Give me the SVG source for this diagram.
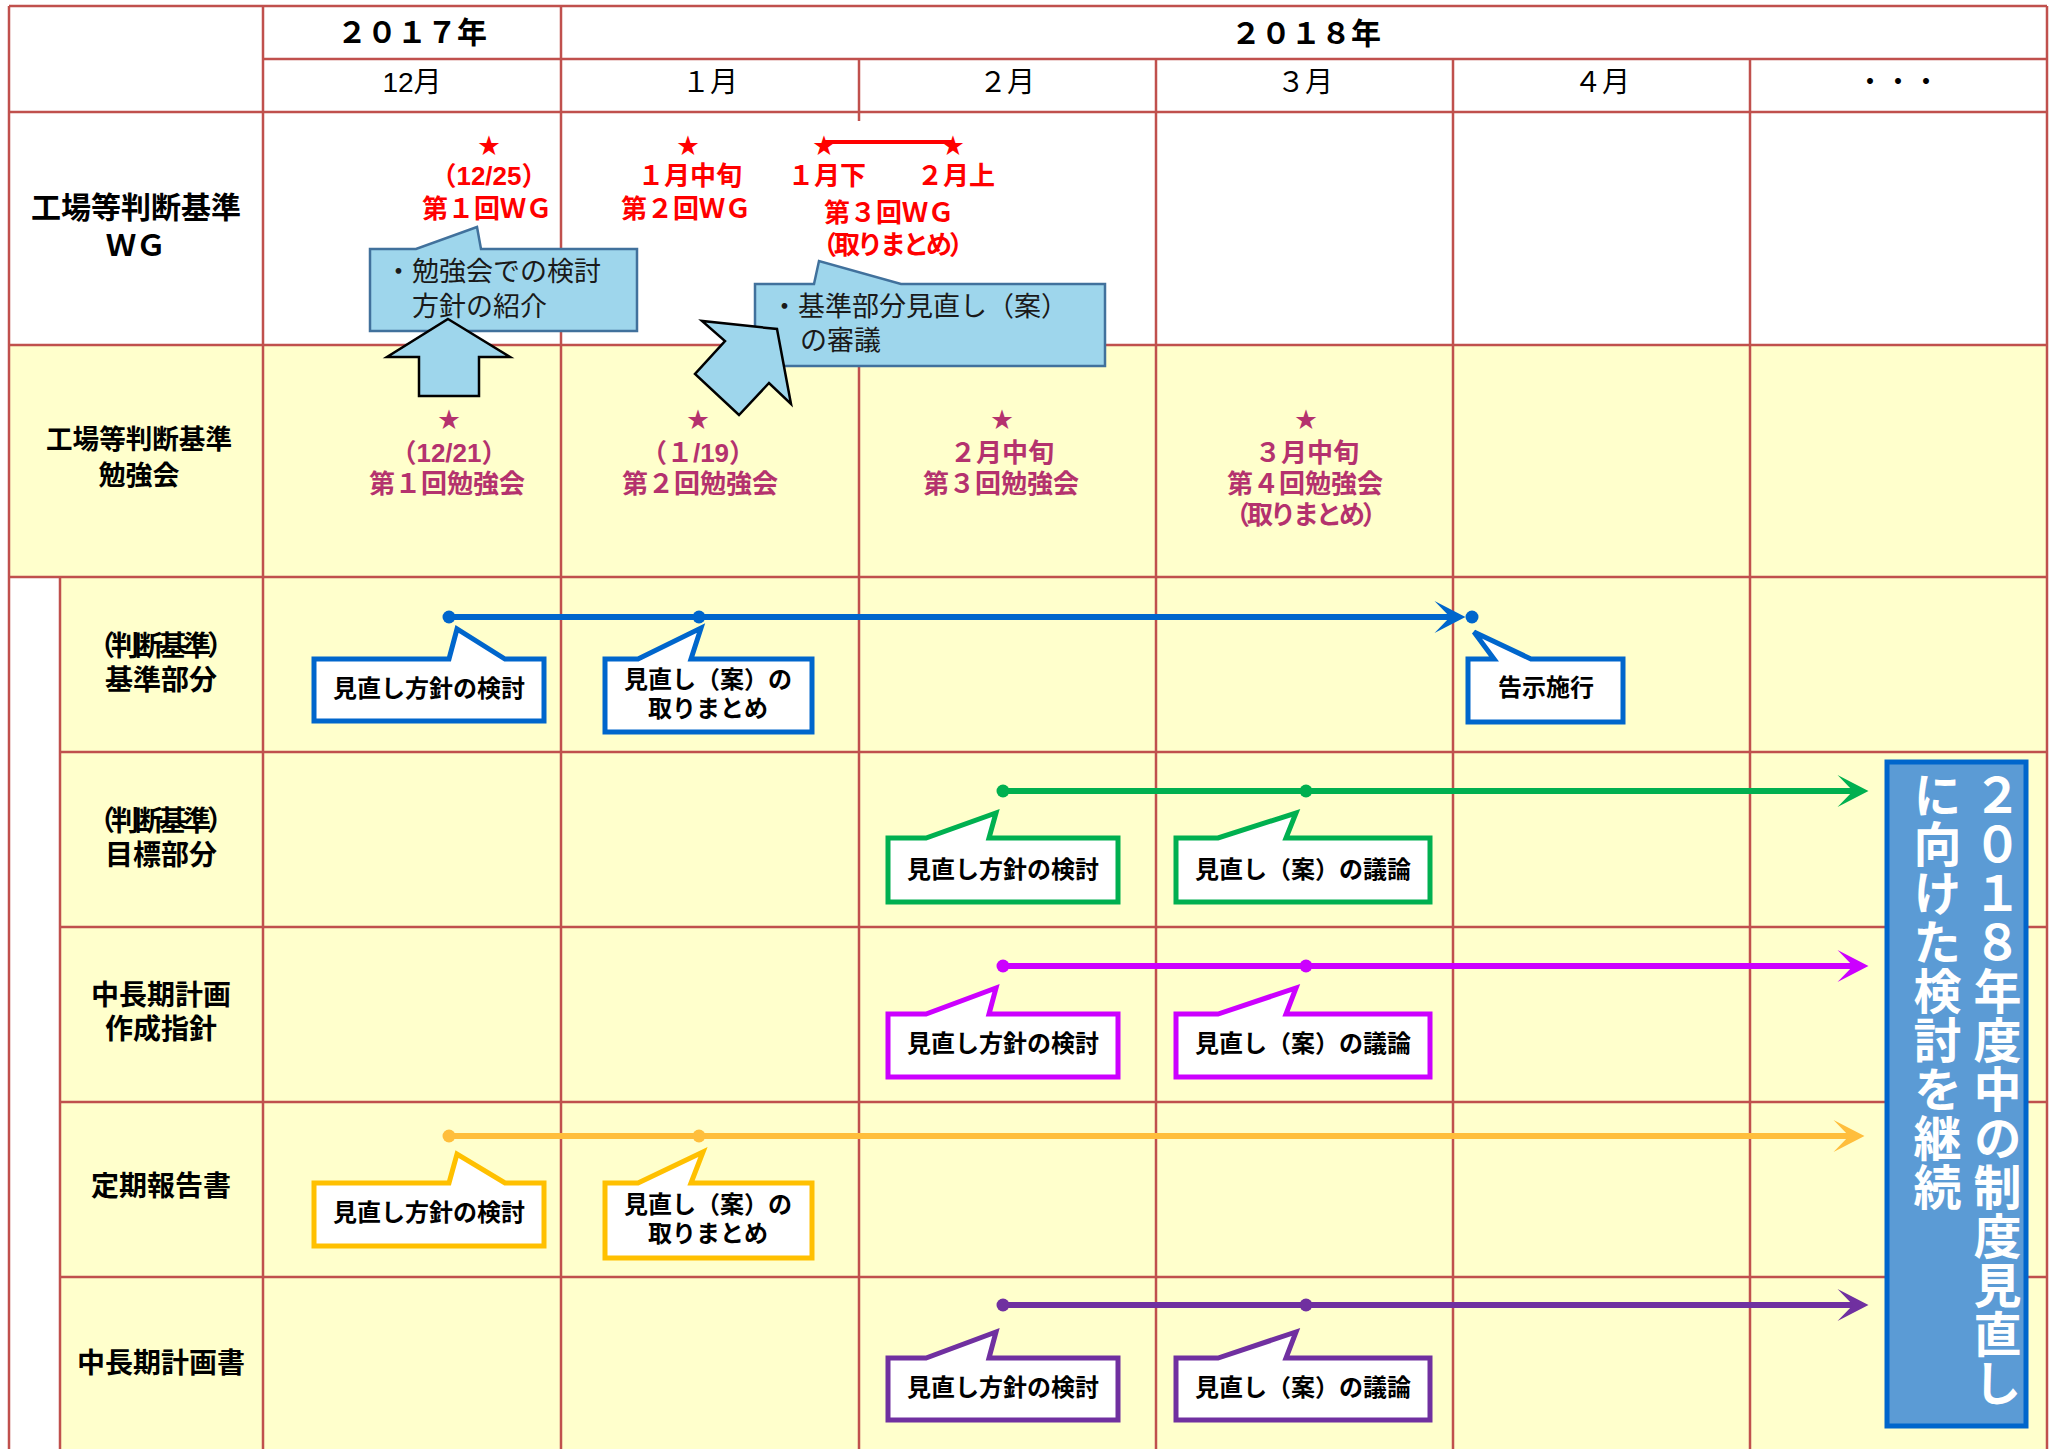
<svg xmlns="http://www.w3.org/2000/svg" width="2054" height="1449" viewBox="0 0 2054 1449">
<style>
  text, tspan { font-family: "Liberation Sans", "Noto Sans CJK JP", sans-serif; dominant-baseline: central; }
  text { text-anchor: middle; }
  .grid { stroke: #C0504D; stroke-width: 2.5; fill: none; }
  .hdr { font-size: 30px; font-weight: bold; fill: #000; }
  .mon { font-size: 28px; fill: #000; }
  .lbl { font-size: 28px; font-weight: bold; fill: #000; }
  .wg { font-size: 26px; font-weight: bold; fill: #FF0000; }
  .st { font-size: 26px; font-weight: bold; fill: #B4326E; }
  .star { font-size: 22px; }
  .note { fill: #9ED6EC; stroke: #41719C; stroke-width: 2.5; }
  .notetxt { font-size: 27px; fill: #1a1a1a; text-anchor: start; }
  .barrow { fill: #9ED6EC; stroke: #000; stroke-width: 2.5; stroke-linejoin: miter; }
  .co { fill: #fff; stroke-width: 5; stroke-linejoin: miter; }
  .cotxt { font-size: 24px; font-weight: bold; fill: #000; }
  .tl { stroke-width: 6; fill: none; }
  .big { fill: #5B9BD5; stroke: #0066CC; stroke-width: 5; }
  .vt { font-size: 48px; font-weight: bold; fill: #fff; writing-mode: vertical-rl; text-anchor: start; letter-spacing: 1px; }
</style>
<defs>
  <marker id="ah-blue" markerUnits="userSpaceOnUse" markerWidth="32" markerHeight="32" viewBox="0 0 30 31" refX="15" refY="15.5" orient="auto"><path d="M0,0 L30,15.5 L0,31 L15,15.5 Z" fill="#0066CC"/></marker>
  <marker id="ah-green" markerUnits="userSpaceOnUse" markerWidth="32" markerHeight="32" viewBox="0 0 30 31" refX="15" refY="15.5" orient="auto"><path d="M0,0 L30,15.5 L0,31 L15,15.5 Z" fill="#00B050"/></marker>
  <marker id="ah-mag" markerUnits="userSpaceOnUse" markerWidth="32" markerHeight="32" viewBox="0 0 30 31" refX="15" refY="15.5" orient="auto"><path d="M0,0 L30,15.5 L0,31 L15,15.5 Z" fill="#CC00FF"/></marker>
  <marker id="ah-org" markerUnits="userSpaceOnUse" markerWidth="32" markerHeight="32" viewBox="0 0 30 31" refX="15" refY="15.5" orient="auto"><path d="M0,0 L30,15.5 L0,31 L15,15.5 Z" fill="#FFBE3C"/></marker>
  <marker id="ah-pur" markerUnits="userSpaceOnUse" markerWidth="32" markerHeight="32" viewBox="0 0 30 31" refX="15" refY="15.5" orient="auto"><path d="M0,0 L30,15.5 L0,31 L15,15.5 Z" fill="#7030A0"/></marker>
</defs>

<!-- backgrounds -->
<g id="background">
  <rect x="0" y="0" width="2054" height="1449" fill="#fff"/>
  <rect x="9" y="345" width="2038" height="232" fill="#FFFFCC"/>
  <rect x="60" y="577" width="1987" height="872" fill="#FFFFCC"/>
</g>

<!-- grid -->
<g id="grid" class="grid">
  <line x1="9" y1="6" x2="2047" y2="6"/>
  <line x1="263" y1="59" x2="2047" y2="59"/>
  <line x1="9" y1="112" x2="2047" y2="112"/>
  <line x1="9" y1="345" x2="2047" y2="345"/>
  <line x1="9" y1="577" x2="2047" y2="577"/>
  <line x1="60" y1="752" x2="2047" y2="752"/>
  <line x1="60" y1="927" x2="2047" y2="927"/>
  <line x1="60" y1="1102" x2="2047" y2="1102"/>
  <line x1="60" y1="1277" x2="2047" y2="1277"/>
  <line x1="9" y1="6" x2="9" y2="1449"/>
  <line x1="60" y1="577" x2="60" y2="1449"/>
  <line x1="263" y1="6" x2="263" y2="1449"/>
  <line x1="561" y1="6" x2="561" y2="1449"/>
  <line x1="859" y1="59" x2="859" y2="121"/>
  <line x1="859" y1="345" x2="859" y2="1449"/>
  <line x1="1156" y1="59" x2="1156" y2="1449"/>
  <line x1="1453" y1="59" x2="1453" y2="1449"/>
  <line x1="1750" y1="59" x2="1750" y2="1449"/>
  <line x1="2047" y1="6" x2="2047" y2="1449"/>
</g>

<!-- header -->
<g id="header">
  <text class="hdr" x="412" y="32">２０１７年</text>
  <text class="hdr" x="1306" y="33">２０１８年</text>
  <text class="mon" x="412" y="82">12月</text>
  <text class="mon" x="710" y="82">１月</text>
  <text class="mon" x="1007" y="82">２月</text>
  <text class="mon" x="1305" y="82">３月</text>
  <text class="mon" x="1602" y="82">４月</text>
  <text class="mon" x="1898" y="82">・・・</text>
</g>

<!-- row labels -->
<g id="row-labels">
  <text class="hdr"><tspan x="136" y="207">工場等判断基準</tspan><tspan x="136" y="245">ＷＧ</tspan></text>
  <text class="lbl" style="font-size:27px"><tspan x="139" y="440" textLength="186" lengthAdjust="spacingAndGlyphs">工場等判断基準</tspan><tspan x="139" y="476">勉強会</tspan></text>
  <text class="lbl"><tspan x="161" y="646" textLength="148" lengthAdjust="spacing">（判断基準）</tspan><tspan x="161" y="680">基準部分</tspan></text>
  <text class="lbl"><tspan x="161" y="821" textLength="148" lengthAdjust="spacing">（判断基準）</tspan><tspan x="161" y="855">目標部分</tspan></text>
  <text class="lbl"><tspan x="161" y="995">中長期計画</tspan><tspan x="161" y="1029">作成指針</tspan></text>
  <text class="lbl" x="161" y="1186">定期報告書</text>
  <text class="lbl" x="161" y="1363">中長期計画書</text>
</g>

<!-- WG events -->
<g id="wg-events">
  <line x1="824" y1="142" x2="953" y2="142" stroke="#FF0000" stroke-width="4"/>
  <text class="wg"><tspan class="star" x="489" y="145">★</tspan><tspan x="489" y="176">（12/25）</tspan><tspan x="487" y="209">第１回ＷＧ</tspan></text>
  <text class="wg"><tspan class="star" x="688" y="145">★</tspan><tspan x="690" y="176">１月中旬</tspan><tspan x="686" y="209">第２回ＷＧ</tspan></text>
  <text class="wg"><tspan class="star" x="824" y="145">★</tspan><tspan class="star" x="953" y="145">★</tspan><tspan x="827" y="176">１月下</tspan><tspan x="956" y="176">２月上</tspan><tspan x="889" y="213">第３回ＷＧ</tspan><tspan x="893" y="245" textLength="164" lengthAdjust="spacing">（取りまとめ）</tspan></text>
</g>

<!-- study events -->
<g id="study-events">
  <text class="st"><tspan class="star" x="449" y="419">★</tspan><tspan x="449" y="453">（12/21）</tspan><tspan x="447" y="484">第１回勉強会</tspan></text>
  <text class="st"><tspan class="star" x="698" y="419">★</tspan><tspan x="698" y="453">（１/19）</tspan><tspan x="700" y="484">第２回勉強会</tspan></text>
  <text class="st"><tspan class="star" x="1002" y="419">★</tspan><tspan x="1002" y="453">２月中旬</tspan><tspan x="1001" y="484">第３回勉強会</tspan></text>
  <text class="st"><tspan class="star" x="1306" y="419">★</tspan><tspan x="1307" y="453">３月中旬</tspan><tspan x="1305" y="484">第４回勉強会</tspan><tspan x="1306" y="515" textLength="164" lengthAdjust="spacing">（取りまとめ）</tspan></text>
</g>

<!-- blue notes -->
<g id="note1">
  <path class="note" d="M370,249 L416,249 L477,227 L481,249 L637,249 L637,331 L370,331 Z"/>
  <text class="notetxt"><tspan x="385" y="272">・勉強会での検討</tspan><tspan x="412" y="307">方針の紹介</tspan></text>
</g>
<g id="arrow-up">
  <path class="barrow" d="M448,319 L510,357 L479,357 L479,396 L419,396 L419,357 L387,357 Z"/>
</g>
<g id="note2">
  <path class="note" d="M755,284 L814,284 L819,261 L901,284 L1105,284 L1105,366 L755,366 Z"/>
  <text class="notetxt"><tspan x="771" y="307">・基準部分見直し（案）</tspan><tspan x="800" y="341">の審議</tspan></text>
</g>
<g id="arrow-diag">
  <path class="barrow" d="M777,329 L791,404 L769,383 L739,415 L695,374 L725,341 L702,321 Z"/>
</g>

<!-- connectors / timelines -->
<g id="connectors">
  <line class="tl" x1="449" y1="617" x2="1450" y2="617" stroke="#0066CC" marker-end="url(#ah-blue)"/>
  <circle cx="449" cy="617" r="6.5" fill="#0066CC"/>
  <circle cx="699" cy="617" r="6.5" fill="#0066CC"/>
  <circle cx="1472" cy="617" r="6.5" fill="#0066CC"/>

  <line class="tl" x1="1003" y1="791" x2="1853" y2="791" stroke="#00B050" marker-end="url(#ah-green)"/>
  <circle cx="1003" cy="791" r="6.5" fill="#00B050"/>
  <circle cx="1306" cy="791" r="6.5" fill="#00B050"/>

  <line class="tl" x1="1003" y1="966" x2="1853" y2="966" stroke="#CC00FF" marker-end="url(#ah-mag)"/>
  <circle cx="1003" cy="966" r="6.5" fill="#CC00FF"/>
  <circle cx="1306" cy="966" r="6.5" fill="#CC00FF"/>

  <line class="tl" x1="449" y1="1136" x2="1849" y2="1136" stroke="#FFBE3C" marker-end="url(#ah-org)"/>
  <circle cx="449" cy="1136" r="6.5" fill="#FFBE3C"/>
  <circle cx="699" cy="1136" r="6.5" fill="#FFBE3C"/>

  <line class="tl" x1="1003" y1="1305" x2="1853" y2="1305" stroke="#7030A0" marker-end="url(#ah-pur)"/>
  <circle cx="1003" cy="1305" r="6.5" fill="#7030A0"/>
  <circle cx="1306" cy="1305" r="6.5" fill="#7030A0"/>
</g>

<!-- row 1 callouts (blue) -->
<g id="c-kijun-1">
  <path class="co" stroke="#0066CC" d="M314,659 L449,659 L457,629 L505,659 L544,659 L544,721 L314,721 Z"/>
  <text class="cotxt" x="429" y="688">見直し方針の検討</text>
</g>
<g id="c-kijun-2">
  <path class="co" stroke="#0066CC" d="M605,659 L638,659 L701,628 L691,659 L812,659 L812,732 L605,732 Z"/>
  <text class="cotxt"><tspan x="708" y="679">見直し（案）の</tspan><tspan x="708" y="708">取りまとめ</tspan></text>
</g>
<g id="c-kijun-3">
  <path class="co" stroke="#0066CC" d="M1468,659 L1494,659 L1474,632 L1531,659 L1623,659 L1623,722 L1468,722 Z"/>
  <text class="cotxt" x="1546" y="687">告示施行</text>
</g>

<!-- row 2 callouts (green) -->
<g id="c-mokuhyo-1">
  <path class="co" stroke="#00B050" d="M888,838 L926,838 L996,813 L989,838 L1118,838 L1118,902 L888,902 Z"/>
  <text class="cotxt" x="1003" y="869">見直し方針の検討</text>
</g>
<g id="c-mokuhyo-2">
  <path class="co" stroke="#00B050" d="M1176,838 L1218,838 L1296,813 L1286,838 L1430,838 L1430,902 L1176,902 Z"/>
  <text class="cotxt" x="1303" y="869">見直し（案）の議論</text>
</g>

<!-- row 3 callouts (magenta) -->
<g id="c-shishin-1">
  <path class="co" stroke="#CC00FF" d="M888,1014 L926,1014 L996,988 L989,1014 L1118,1014 L1118,1077 L888,1077 Z"/>
  <text class="cotxt" x="1003" y="1043">見直し方針の検討</text>
</g>
<g id="c-shishin-2">
  <path class="co" stroke="#CC00FF" d="M1176,1014 L1218,1014 L1296,988 L1286,1014 L1430,1014 L1430,1077 L1176,1077 Z"/>
  <text class="cotxt" x="1303" y="1043">見直し（案）の議論</text>
</g>

<!-- row 4 callouts (orange) -->
<g id="c-teiki-1">
  <path class="co" stroke="#FFC000" d="M314,1183 L449,1183 L457,1154 L505,1183 L544,1183 L544,1246 L314,1246 Z"/>
  <text class="cotxt" x="429" y="1212">見直し方針の検討</text>
</g>
<g id="c-teiki-2">
  <path class="co" stroke="#FFC000" d="M605,1183 L638,1183 L703,1152 L691,1183 L812,1183 L812,1258 L605,1258 Z"/>
  <text class="cotxt"><tspan x="708" y="1204">見直し（案）の</tspan><tspan x="708" y="1233">取りまとめ</tspan></text>
</g>

<!-- row 5 callouts (purple) -->
<g id="c-keikaku-1">
  <path class="co" stroke="#7030A0" d="M888,1358 L926,1358 L996,1332 L989,1358 L1118,1358 L1118,1420 L888,1420 Z"/>
  <text class="cotxt" x="1003" y="1387">見直し方針の検討</text>
</g>
<g id="c-keikaku-2">
  <path class="co" stroke="#7030A0" d="M1176,1358 L1218,1358 L1296,1332 L1286,1358 L1430,1358 L1430,1420 L1176,1420 Z"/>
  <text class="cotxt" x="1303" y="1387">見直し（案）の議論</text>
</g>

<!-- big vertical box -->
<g id="continue-box">
  <rect class="big" x="1887" y="762" width="139" height="664"/>
  <text class="vt" x="1993" y="771">２０１８年度中の制度見直し</text>
  <text class="vt" x="1933" y="771">に向けた検討を継続</text>
</g>
</svg>
